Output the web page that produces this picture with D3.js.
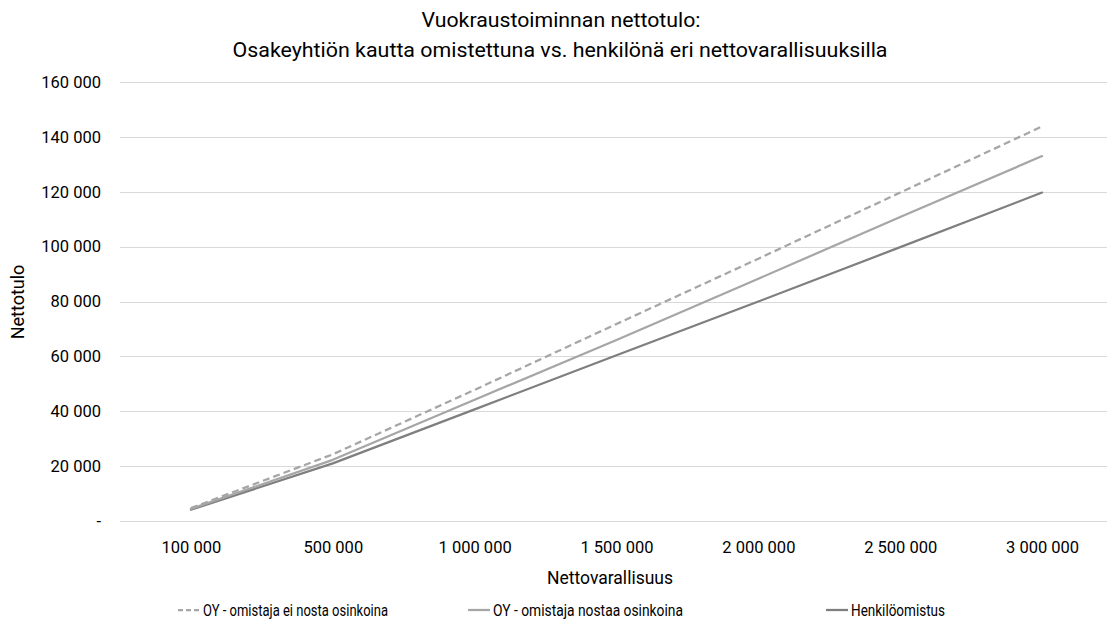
<!DOCTYPE html>
<html>
<head>
<meta charset="utf-8">
<script src="https://cdn.jsdelivr.net/npm/d3@7"></script>
<style>
  html, body { margin: 0; padding: 0; background: #fff; }
  svg { display: block; font-family: Roboto, "Noto Sans", sans-serif; }
</style>
</head>
<body>
<svg id="chart" width="1107" height="623"></svg>
<script>
// Net worth categories (x axis)
const categories = ["100 000", "500 000", "1 000 000", "1 500 000", "2 000 000", "2 500 000", "3 000 000"];

// Net rental income per scenario
const oyNoDividend = [4700, 24300, 47800, 71800, 95600, 119700, 143800];
const oyDividend   = [4400, 22300, 44200, 66000, 88300, 110800, 133000];
const personal     = [4100, 21000, 40700, 60400, 80000, 99800, 119700];

const yTicks = [0, 20000, 40000, 60000, 80000, 100000, 120000, 140000, 160000];

const seriesNames = ["OY - omistaja ei nosta osinkoina", "OY - omistaja nostaa osinkoina", "Henkilöomistus"];

const series = [
  { name: seriesNames[0], values: oyNoDividend, color: "#a6a6a6", dash: "7,4" },
  { name: seriesNames[1], values: oyDividend,   color: "#a6a6a6", dash: null },
  { name: seriesNames[2], values: personal,     color: "#7f7f7f", dash: null }
];

const svg = d3.select("#chart");
const W = 1107, H = 623;
const plot = { left: 120, right: 1113, top: 82, bottom: 521 };

const x = d3.scalePoint().domain(categories).range([plot.left, plot.right]).padding(0.5);
const y = d3.scaleLinear().domain([0, 160000]).range([plot.bottom, plot.top]);

const fmt = v => v === 0 ? "-" : d3.format(",")(v).replace(/,/g, " ");

// Condensed text: squeeze a label horizontally to a given width
function condense(sel, width) {
  sel.attr("textLength", width).attr("lengthAdjust", "spacingAndGlyphs");
}

// Title (two lines, condensed face)
svg.append("text").attr("x", 561).attr("y", 27).attr("text-anchor", "middle")
  .attr("font-size", 21).attr("fill", "#000")
  .text("Vuokraustoiminnan nettotulo:").call(condense, 279);
svg.append("text").attr("x", 560).attr("y", 57).attr("text-anchor", "middle")
  .attr("font-size", 21).attr("fill", "#000")
  .text("Osakeyhtiön kautta omistettuna vs. henkilönä eri nettovarallisuuksilla").call(condense, 655);

// Gridlines
svg.append("g")
  .selectAll("line").data(yTicks).join("line")
  .attr("x1", plot.left).attr("x2", W)
  .attr("y1", d => Math.round(y(d)) + 0.5).attr("y2", d => Math.round(y(d)) + 0.5)
  .attr("stroke", "#d9d9d9").attr("stroke-width", 1);

// Y axis labels
const yAxis = d3.axisLeft(y).tickValues(yTicks).tickFormat(fmt).tickSize(0).tickPadding(0);
const gy = svg.append("g").attr("transform", `translate(${101},0)`).call(yAxis);
gy.select(".domain").remove();
gy.selectAll("text").attr("font-size", 16.5).attr("fill", "#000").attr("font-family", "Roboto");

// X axis labels
const xAxis = d3.axisBottom(x).tickSize(0).tickPadding(0);
const gx = svg.append("g").attr("transform", `translate(0,${541})`).call(xAxis);
gx.select(".domain").remove();
gx.selectAll("text").attr("font-size", 16.5).attr("fill", "#000").attr("font-family", "Roboto");

// Axis titles
svg.append("text").attr("x", 610).attr("y", 584).attr("text-anchor", "middle")
  .attr("font-size", 17.5).attr("fill", "#000").text("Nettovarallisuus");
svg.append("text").attr("transform", "translate(24,302) rotate(-90)").attr("text-anchor", "middle")
  .attr("font-size", 18).attr("fill", "#000").text("Nettotulo");

// Lines
const line = d3.line().x((d, i) => x(categories[i])).y(d => y(d));
svg.append("g").selectAll("path").data(series.slice().reverse()).join("path")
  .attr("d", d => line(d.values))
  .attr("fill", "none")
  .attr("stroke", d => d.color)
  .attr("stroke-width", 2.25)
  .attr("stroke-dasharray", d => d.dash)
  .attr("stroke-linecap", d => d.dash ? "butt" : "round")
  .attr("stroke-linejoin", "round");

// Legend
const legendX = [178, 468, 826];
const legendW = [185, 190, 94];
const lg = svg.append("g").selectAll("g").data(series).join("g")
  .attr("transform", (d, i) => `translate(${legendX[i]},${610})`);
lg.append("line").attr("x1", 0).attr("x2", 22).attr("y1", 0).attr("y2", 0)
  .attr("stroke", d => d.color).attr("stroke-width", 2.25)
  .attr("stroke-dasharray", d => d.dash ? "5,3" : null);
lg.append("text").attr("x", 25).attr("y", 6).attr("font-size", 16.5).attr("fill", "#000")
  .text(d => d.name)
  .each(function(d, i) { d3.select(this).call(condense, legendW[i]); });
</script>
</body>
</html>
